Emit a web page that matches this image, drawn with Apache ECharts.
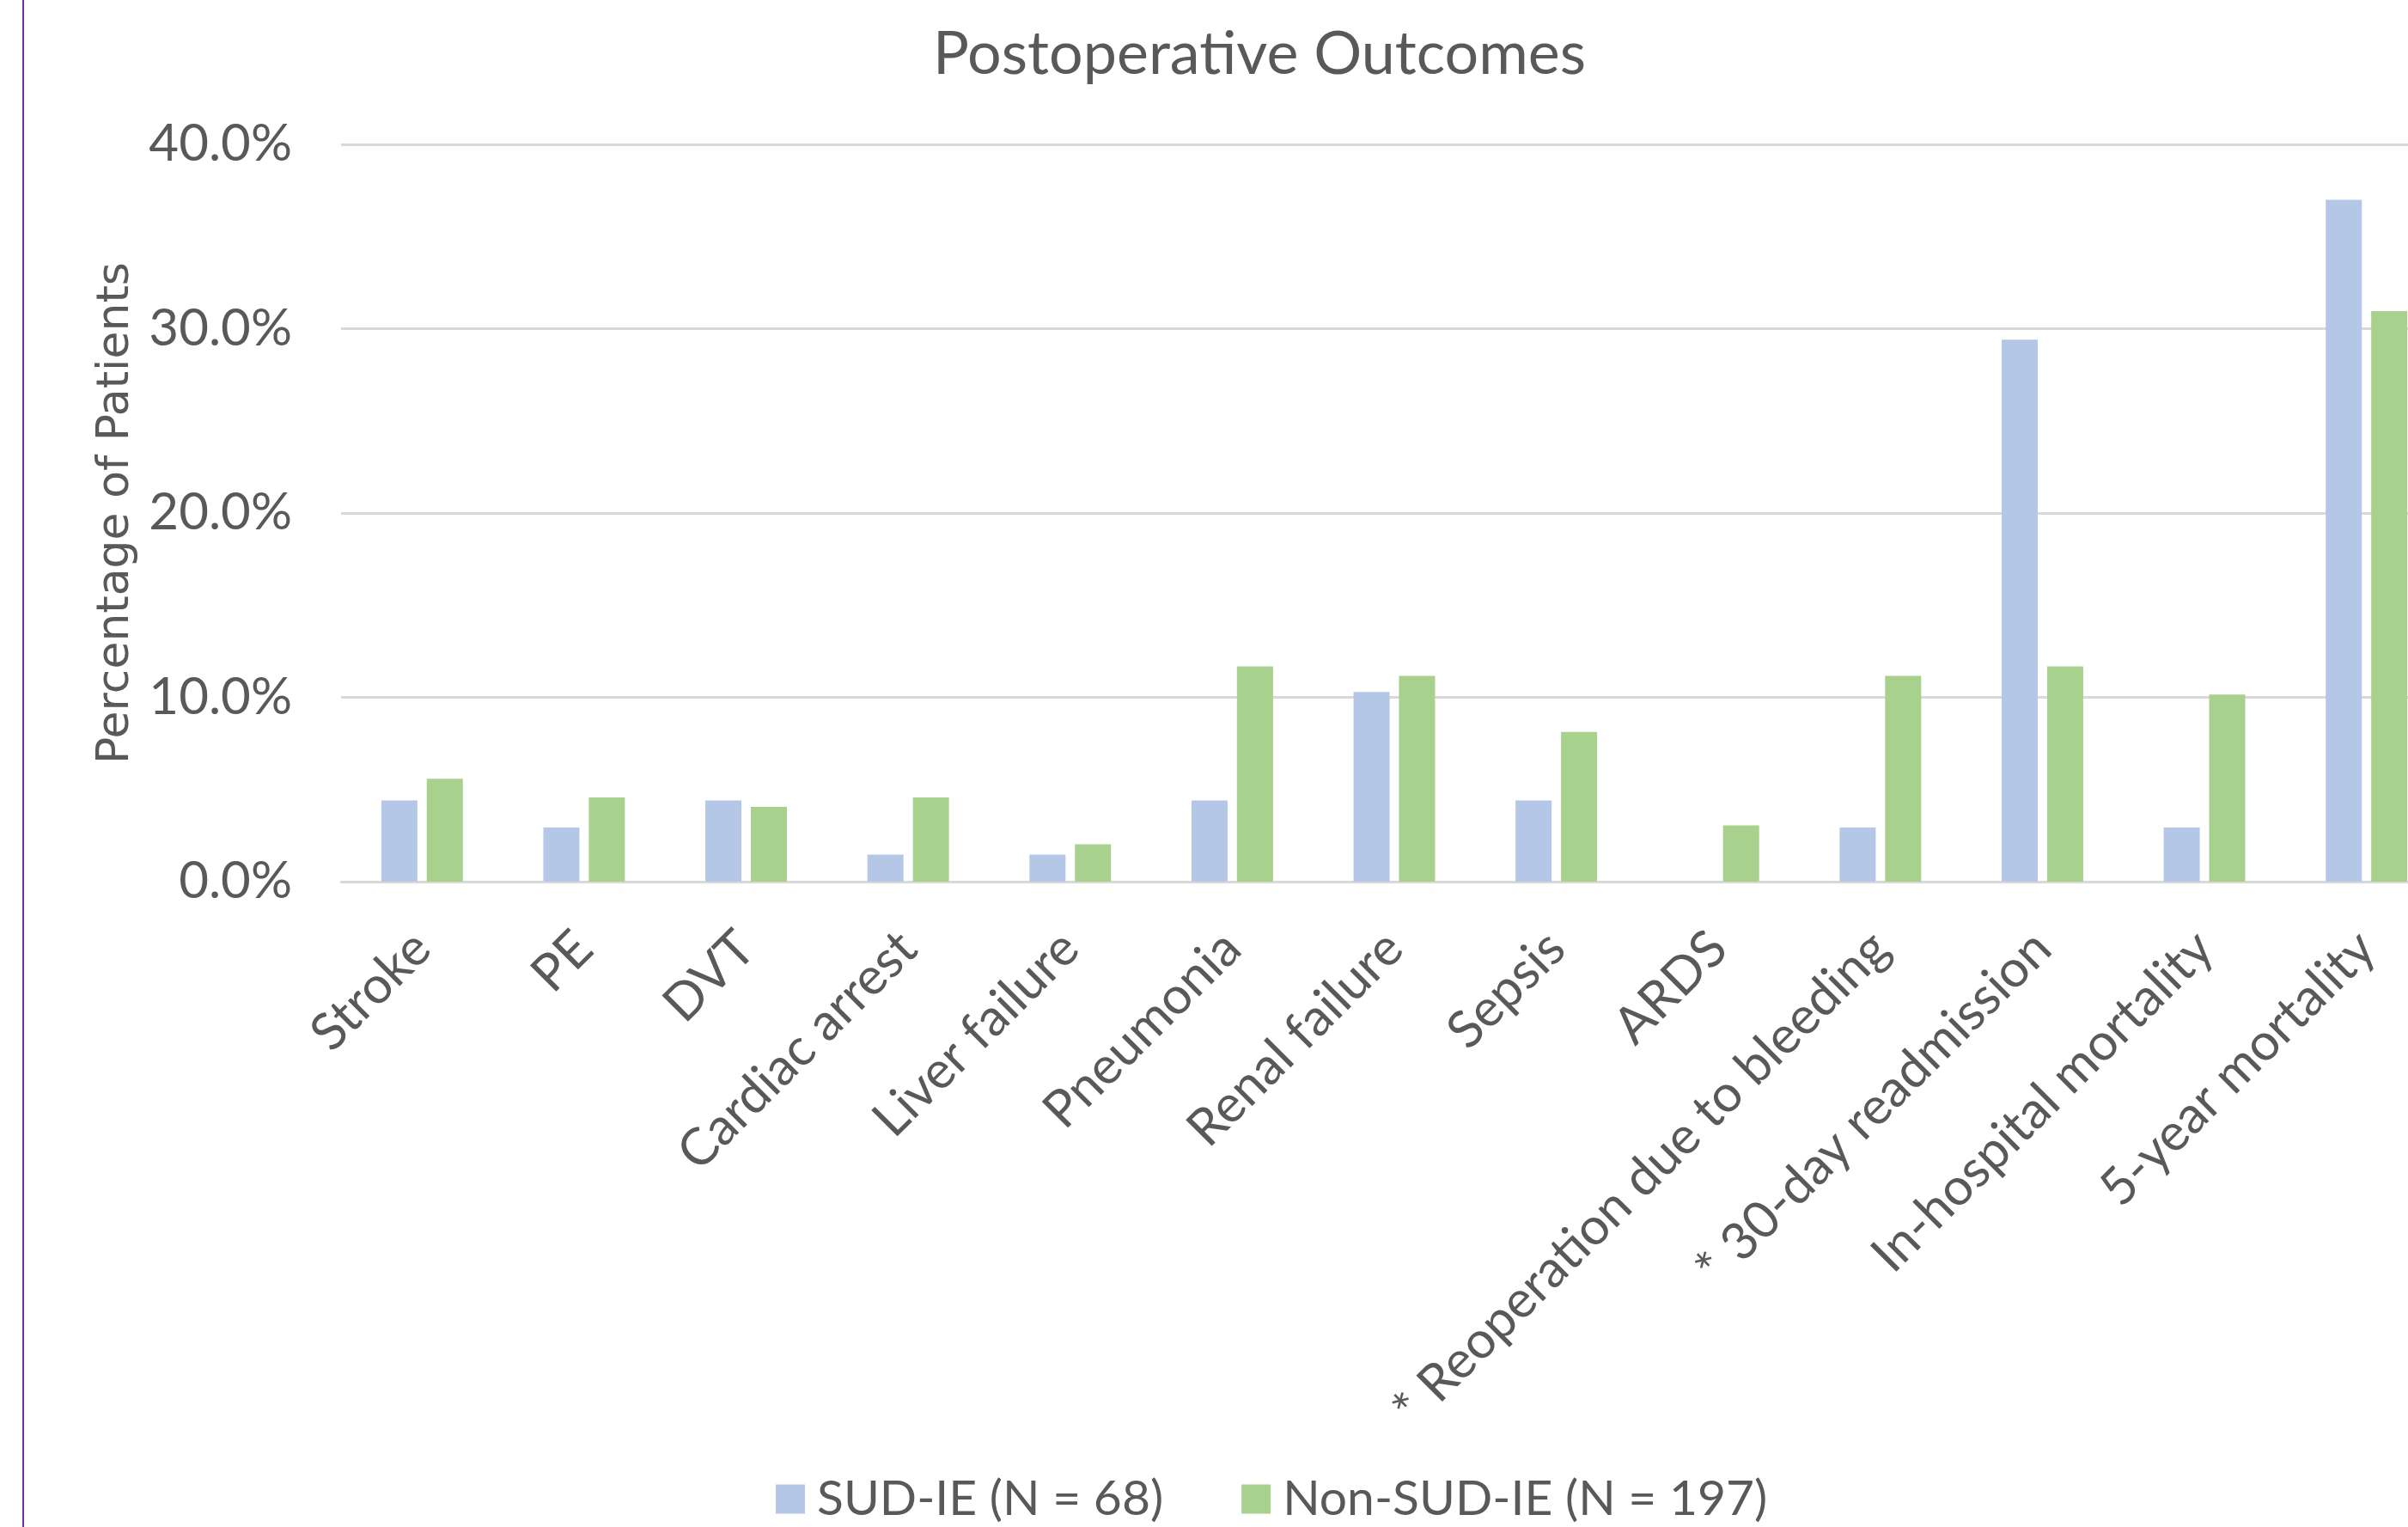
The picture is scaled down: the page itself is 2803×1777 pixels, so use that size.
<!DOCTYPE html>
<html>
<head>
<meta charset="utf-8">
<title>Postoperative Outcomes</title>
<script src="https://cdn.jsdelivr.net/npm/echarts@6/dist/echarts.min.js"></script>
<style>
  html, body { margin: 0; padding: 0; background: #ffffff; }
  #chart { width: 2803px; height: 1777px; }
</style>
</head>
<body>
<div id="chart"></div>
<script>
// Outcome categories along the x axis
const categories = [
  'Stroke', 'PE', 'DVT', 'Cardiac arrest', 'Liver failure', 'Pneumonia',
  'Renal failure', 'Sepsis', 'ARDS', '* Reoperation due to bleeding',
  '* 30-day readmission', 'In-hospital mortality', '5-year mortality'
];

// Percentage of patients in each group
const sudIE = [4.41, 2.94, 4.41, 1.47, 1.47, 4.41, 10.29, 4.41, 0, 2.94, 29.41, 2.94, 36.99];
const nonSudIE = [5.58, 4.57, 4.06, 4.57, 2.03, 11.68, 11.17, 8.12, 3.05, 11.17, 11.68, 10.15, 30.96];

const seriesNames = ['SUD-IE (N = 68)', 'Non-SUD-IE (N = 197)'];

// Value axis ticks
const yTicks = { min: 0, max: 40, interval: 10 };

const textColor = '#595959';
const mainFont = 'Lato, "Open Sans", sans-serif';

const chart = echarts.init(document.getElementById('chart'), null, { renderer: 'canvas' });

chart.setOption({
  backgroundColor: '#ffffff',
  animation: false,
  title: {
    text: 'Postoperative Outcomes',
    left: 1466,
    textAlign: 'center',
    top: 28,
    padding: 0,
    textStyle: { color: textColor, fontSize: 70, fontWeight: 'normal', fontFamily: mainFont }
  },
  legend: {
    data: seriesNames,
    left: 903,
    top: 1716,
    padding: 0,
    itemWidth: 34,
    itemHeight: 34,
    itemGap: 91,
    icon: 'rect',
    textStyle: { color: textColor, fontSize: 57, fontFamily: mainFont, padding: [0, 0, 0, 9] }
  },
  // the plot runs past the right edge of the canvas, so its width is fixed
  // and it is not pulled back inside the container
  grid: {
    left: 397,
    width: 2452,
    top: 168,
    bottom: 751,
    containLabel: false,
    outerBoundsMode: 'none'
  },
  xAxis: {
    type: 'category',
    data: categories,
    axisLine: { show: true, lineStyle: { color: '#D9D9D9', width: 3 } },
    axisTick: { show: false },
    axisLabel: {
      interval: 0,
      rotate: 45,
      margin: 68,
      color: textColor,
      fontSize: 60,
      fontFamily: mainFont
    }
  },
  yAxis: {
    type: 'value',
    min: yTicks.min,
    max: yTicks.max,
    interval: yTicks.interval,
    name: 'Percentage of Patients',
    nameLocation: 'middle',
    nameRotate: 90,
    nameGap: 236,
    nameTextStyle: { color: textColor, fontSize: 52, fontFamily: '"DejaVu Sans", Verdana, sans-serif' },
    axisLine: { show: false },
    axisTick: { show: false },
    splitLine: { lineStyle: { color: '#D9D9D9', width: 3 } },
    axisLabel: {
      margin: 57,
      color: textColor,
      fontSize: 60,
      fontFamily: mainFont,
      formatter: v => v.toFixed(1) + '%'
    }
  },
  series: [
    {
      name: seriesNames[0],
      type: 'bar',
      data: sudIE,
      barWidth: 42,
      barGap: '26%',
      itemStyle: { color: '#B4C7E7' }
    },
    {
      name: seriesNames[1],
      type: 'bar',
      data: nonSudIE,
      barWidth: 42,
      itemStyle: { color: '#A9D18E' }
    }
  ],
  graphic: [
    {
      type: 'line',
      shape: { x1: 27, y1: 0, x2: 27, y2: 1777 },
      style: { stroke: '#7030A0', lineWidth: 2 },
      silent: true
    }
  ]
});
</script>
</body>
</html>
